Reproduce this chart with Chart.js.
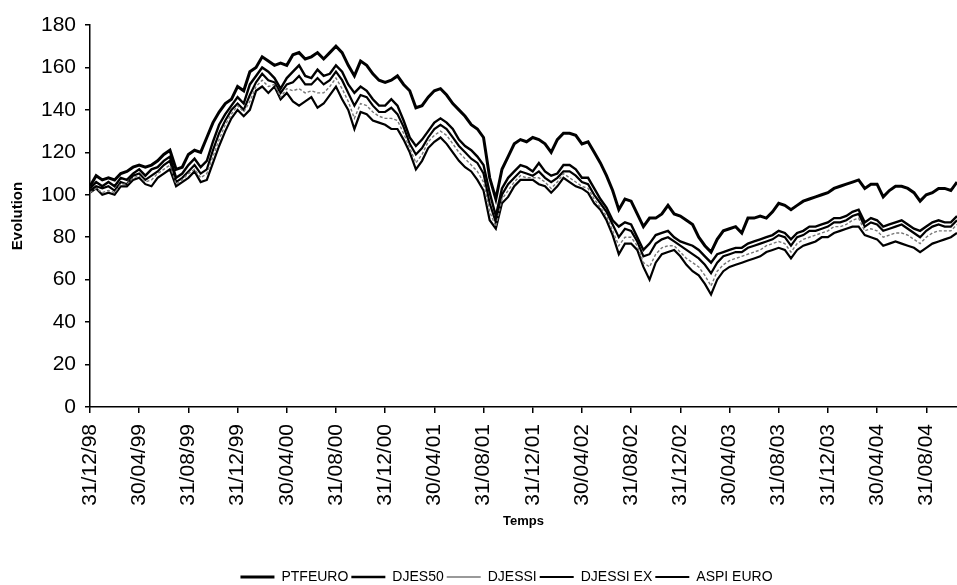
<!DOCTYPE html>
<html>
<head>
<meta charset="utf-8">
<script src="https://cdn.jsdelivr.net/npm/chart.js@4/dist/chart.umd.min.js"></script>
<style>
  html, body { margin: 0; padding: 0; background: #fff; }
  #wrap { width: 957px; height: 585px; }
</style>
</head>
<body>
<div id="wrap"><canvas id="c" width="957" height="585"></canvas></div>
<script>
// Half-monthly readings from 31/12/98, base ~100.
const ptfeuro = [104,109,107,108,107,110,111,113,114,113,114,116,119,121,112,113,119,121,120,127,
  134,139,143,145,151,149,158,160,165,163,161,162,161,166,167,164,165,167,164,167,
  170,167,161,156,163,161,157,154,153,154,156,152,149,141,142,146,149,150,147,143,
  140,137,133,131,127,108,98,112,118,124,126,125,127,126,124,120,126,129,129,128,
  124,125,120,115,109,102,93,98,97,91,85,89,89,91,95,91,90,88,86,80,
  76,73,79,83,84,85,82,89,89,90,89,92,96,95,93,95,97,98,99,100,
  101,103,104,105,106,107,103,105,105,99,102,104,104,103,101,97,100,101,103,103,
  102,106];

const djes50 = [103,106,104,106,104,108,107,110,112,109,112,113,116,118,108,110,114,117,113,116,
  125,133,138,142,146,143,152,156,160,158,155,150,155,158,161,156,155,159,156,157,
  161,158,152,148,151,149,145,142,142,145,142,135,127,123,126,130,134,136,134,131,
  126,123,121,118,114,101,90,103,108,111,114,113,111,115,111,109,110,114,114,112,
  108,108,103,98,94,88,85,87,86,80,74,77,81,82,83,80,78,77,76,74,
  71,68,72,73,74,75,75,77,78,79,80,81,83,82,79,82,83,85,85,86,
  87,89,89,90,92,93,87,89,88,85,86,87,88,86,84,83,85,87,88,87,
  87,90];

const djessi = [101,103,101,102,101,105,105,108,109,106,107,110,112,114,105,107,110,112,108,110,
  118,126,133,138,142,139,144,151,154,151,152,146,150,149,150,148,149,148,148,151,
  155,150,144,136,143,142,139,137,136,136,135,129,122,115,119,125,128,130,128,124,
  120,117,114,111,106,92,85,98,102,106,109,108,108,108,106,103,106,110,108,106,
  104,103,98,94,90,83,76,80,80,76,68,66,72,75,76,76,73,70,68,66,
  62,57,64,67,69,70,71,72,73,74,76,77,78,77,73,77,79,80,81,82,
  83,85,85,86,88,89,83,84,83,80,81,82,82,81,79,77,80,82,83,83,
  83,86];

const djessiEx = [102,104,103,104,102,106,105,109,110,107,109,111,114,116,106,108,111,114,110,112,
  121,129,135,140,143,140,147,153,157,154,153,148,152,153,156,152,152,155,152,154,
  158,154,148,142,147,146,142,139,139,141,138,132,124,119,122,127,131,133,131,127,
  123,120,117,115,110,96,87,100,105,108,111,110,109,111,108,106,108,111,111,109,
  106,105,100,96,92,86,80,84,83,78,71,72,77,79,80,78,76,74,72,70,
  67,63,68,71,72,73,73,75,76,77,78,79,81,80,76,80,81,83,83,84,
  85,87,87,88,90,91,85,87,86,83,84,85,86,84,82,80,83,85,86,85,
  85,88];

const aspiEuro = [101,103,100,101,100,104,104,107,108,105,104,108,110,112,104,106,108,111,106,107,
  115,123,130,136,140,137,140,149,151,148,151,145,148,144,142,144,146,141,143,147,
  151,145,140,131,139,138,135,134,133,131,131,126,120,112,116,122,125,127,124,120,
  116,113,111,107,102,88,84,96,99,104,107,107,107,105,104,101,104,108,106,104,
  103,101,96,93,88,81,72,77,77,74,66,60,68,72,73,74,71,67,64,62,
  58,53,60,64,66,67,68,69,70,71,73,74,75,74,70,74,76,77,78,80,
  80,82,83,84,85,85,81,80,79,76,77,78,77,76,75,73,75,77,78,79,
  80,82];

// Tick dates every four months (x measured in months after 31/12/98)
const tickMonths = [0,4,8,12,16,20,24,28,32,36,40,44,48,52,56,60,64,68];
const tickLabels = ['31/12/98','30/04/99','31/08/99','31/12/99','30/04/00','31/08/00',
  '31/12/00','30/04/01','31/08/01','31/12/01','30/04/02','31/08/02',
  '31/12/02','30/04/03','31/08/03','31/12/03','30/04/04','31/08/04'];

const seriesNames = ['PTFEURO','DJES50','DJESSI','DJESSI EX','ASPI EURO'];

const toPoints = (vals) => vals.map((v, i) => ({ x: i * 0.5, y: v }));

const FONT = "Arial, 'Liberation Sans', sans-serif";

// Nudge the legend row a little to the left of the plot centre.
const legendShift = {
  id: 'legendShift',
  afterLayout(chart) {
    if (chart.legend) { chart.legend.left -= 17; chart.legend.right -= 17; }
  }
};

new Chart(document.getElementById('c'), {
  type: 'line',
  plugins: [legendShift],
  data: {
    datasets: [
      { label: seriesNames[0], data: toPoints(ptfeuro), borderColor: '#000', borderWidth: 3 },
      { label: seriesNames[1], data: toPoints(djes50), borderColor: '#000', borderWidth: 2.4 },
      { label: seriesNames[2], data: toPoints(djessi), borderColor: '#777', borderWidth: 1.4, borderDash: [3, 2] },
      { label: seriesNames[3], data: toPoints(djessiEx), borderColor: '#000', borderWidth: 2.2 },
      { label: seriesNames[4], data: toPoints(aspiEuro), borderColor: '#000', borderWidth: 2.2 }
    ]
  },
  options: {
    responsive: false,
    animation: false,
    elements: { point: { radius: 0 }, line: { tension: 0 } },
    layout: { padding: { top: 25, left: 4, right: 0, bottom: -9 } },
    plugins: {
      tooltip: { enabled: false },
      legend: {
        position: 'bottom',
        fullSize: false,
        labels: {
          color: '#000',
          font: { family: FONT, size: 14 },
          usePointStyle: true,
          pointStyle: 'line',
          pointStyleWidth: 34,
          boxHeight: 14,
          padding: 3
        }
      }
    },
    scales: {
      x: {
        type: 'linear',
        min: 0,
        max: 70.5,
        afterFit: (s) => { s.height = 160; s.paddingRight = 0; s.paddingLeft = 0; },
        afterBuildTicks: (s) => { s.ticks = tickMonths.map(v => ({ value: v })); },
        ticks: {
          autoSkip: false,
          minRotation: 90,
          maxRotation: 90,
          padding: 11,
          color: '#000',
          font: { family: FONT, size: 21 },
          callback: (v) => { const k = tickMonths.indexOf(v); return k >= 0 ? tickLabels[k] : ''; }
        },
        grid: { drawOnChartArea: false, drawTicks: true, tickLength: 6, color: '#000', lineWidth: 1.5 },
        border: { display: true, color: '#000', width: 1.5 },
        title: {
          display: true, text: 'Temps', color: '#000',
          font: { family: FONT, size: 13, weight: 'bold' },
          padding: { top: 0, bottom: 38 }
        }
      },
      y: {
        min: 0,
        max: 180,
        afterFit: (s) => { s.width = 86; },
        ticks: {
          stepSize: 20,
          padding: 9,
          color: '#000',
          font: { family: FONT, size: 21 }
        },
        grid: { drawOnChartArea: false, drawTicks: true, tickLength: 5, color: '#000', lineWidth: 1.5 },
        border: { display: true, color: '#000', width: 1.5 },
        title: {
          display: true, text: 'Evolution', color: '#000',
          font: { family: FONT, size: 15, weight: 'bold' },
          padding: { top: 5, bottom: 0 }
        }
      }
    }
  }
});
</script>
</body>
</html>
